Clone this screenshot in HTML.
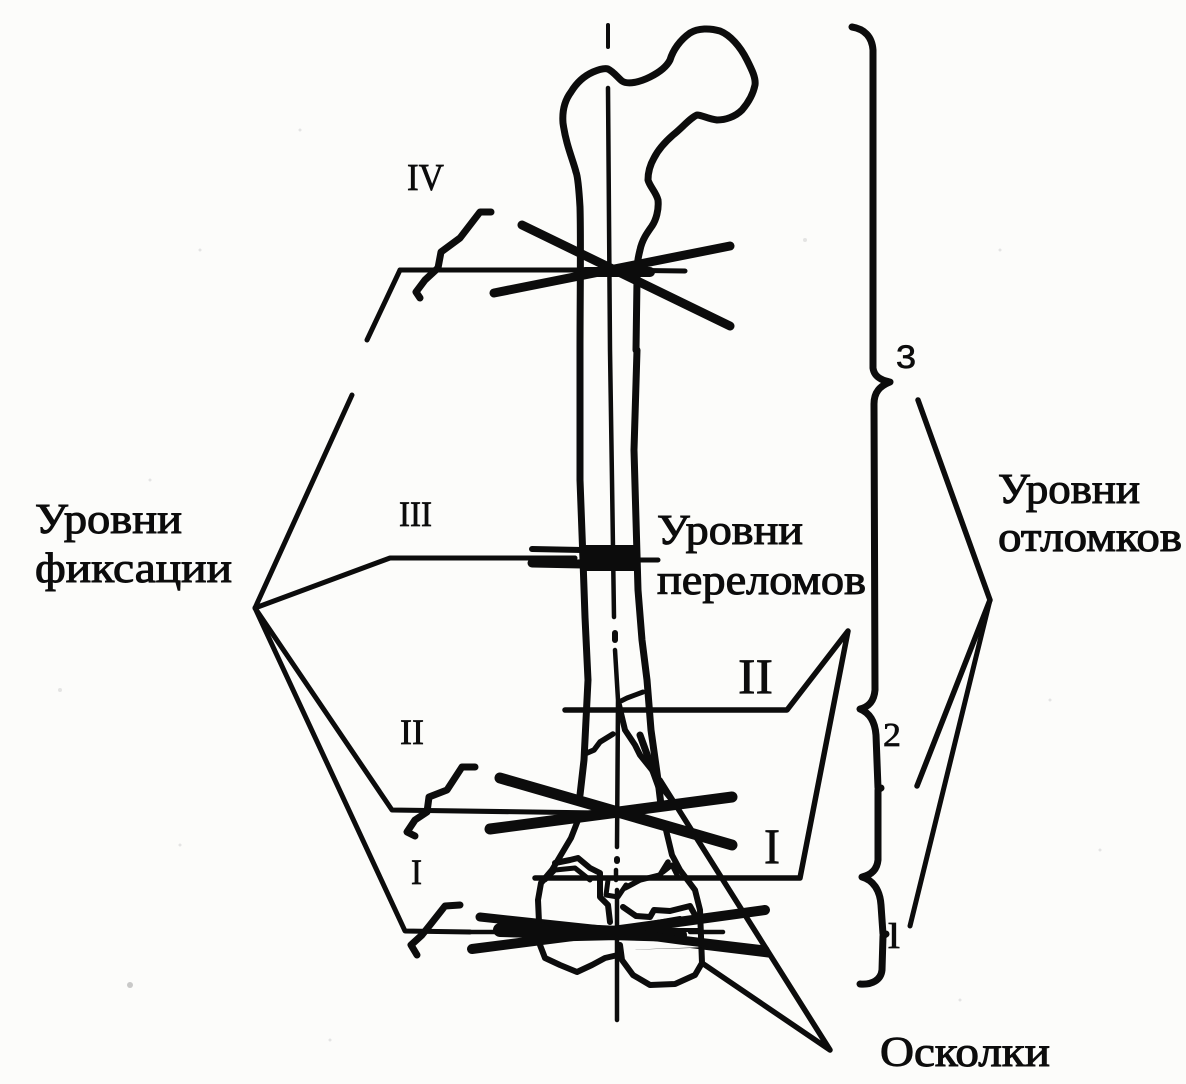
<!DOCTYPE html>
<html lang="ru"><head><meta charset="utf-8"><title>Уровни</title>
<style>html,body{margin:0;padding:0;background:#fcfcfa}svg{display:block}
text{font-family:"Liberation Serif","DejaVu Serif",serif;fill:#0c0c0c}</style></head>
<body>
<svg width="1186" height="1084" viewBox="0 0 1186 1084" xmlns="http://www.w3.org/2000/svg">
<rect width="1186" height="1084" fill="#fcfcfa"/>
<g fill="#ddd" opacity=".8">
<circle cx="130" cy="985" r="3" fill="#bbb"/><circle cx="805" cy="240" r="2"/><circle cx="60" cy="690" r="2"/><circle cx="200" cy="250" r="1.5"/><circle cx="1000" cy="250" r="1.5"/><circle cx="1050" cy="700" r="1.5"/><circle cx="300" cy="130" r="1.5"/><circle cx="1100" cy="850" r="1.5"/><circle cx="150" cy="480" r="1.5"/><circle cx="960" cy="1000" r="1.5"/><circle cx="330" cy="1040" r="1.5"/><circle cx="180" cy="845" r="1.5"/>
</g>
<g fill="none" stroke="#0c0c0c" stroke-linejoin="round" stroke-linecap="round">
<!-- axis -->
<path d="M608 25V47" stroke-width="4"/>
<path d="M608 88L610 350L612 480L614 617" stroke-width="4.5"/>
<path d="M615 633V640" stroke-width="6"/>
<path d="M615 650L618 700L617 847" stroke-width="4.5"/>
<path d="M617 859V861" stroke-width="6"/>
<path d="M616 870V880M617 890L617 1020" stroke-width="4.5"/>
<!-- femur outline -->
<path d="M580 350C580 300 581 240 580 207C579 190 578 177 576 172C573 160 566 145 563 123C562 110 565 100 571 92C577 82 584 76 593 72C600 69 605 68 608 69C614 72 618 78 622 81C628 85 640 82 650 77C660 72 667 66 670 60C673 50 680 40 690 33C698 28 710 28 720 31C730 35 740 46 747 60C752 70 756 78 755 85C753 95 748 103 742 110C735 117 725 120 717 120C708 119 702 115 697 115C690 118 682 128 673 135C665 142 658 150 654 158C650 165 648 172 648 180C650 187 656 192 658 200C659 210 656 220 652 226C647 233 642 240 640 250C638 258 637 262 637 280L636 350" stroke-width="7"/>
<path d="M580 350L580 480L583 560L585 617L588 680L584 760L580 795" stroke-width="7"/>
<path d="M637 350L634 450L636 520L638 590L642 640L647 680L651 730L658 780L661 805" stroke-width="7"/>
<path d="M580 815L571 838L552 870L541 883L538 900L540 945L545 958L560 965L577 972L592 965L605 958L618 955" stroke-width="6"/>
<path d="M666 830L672 855L680 870L695 890L700 910L702 963L695 975L675 984L650 985L633 975L622 960L620 945" stroke-width="6"/>
<!-- condyle cracks -->
<path d="M545 880L555 870L575 868L590 880" stroke-width="5"/>
<path d="M555 863L570 860L578 858L590 868L600 873L600 897L608 905L610 922" stroke-width="6"/>
<path d="M608 880L606 895L618 897L626 885" stroke-width="5"/>
<path d="M625 888L640 880L660 875L668 862" stroke-width="5.5"/>
<path d="M663 872L672 865L678 877" stroke-width="5"/>
<path d="M623 907L636 916L650 917L654 910L670 911L690 906L695 915" stroke-width="6"/>
<path d="M640 925L680 918M670 930L700 930" stroke-width="4"/>
<!-- upper fracture -->
<path d="M619 702L627 698L643 692" stroke-width="5"/>
<path d="M587 753L594 750L600 742L613 734" stroke-width="5.5"/>
<path d="M619 705L625 730L635 745L640 755L652 770L660 785L672 800" stroke-width="6"/>
<!-- level lines left -->
<path d="M400 270H608L685 271" stroke-width="5"/>
<path d="M400 270L367 340M352 395L255 608" stroke-width="5"/>
<path d="M255 608L390 558H575" stroke-width="5"/>
<path d="M255 608L392 810L600 813" stroke-width="5"/>
<path d="M255 608L405 931L470 932" stroke-width="5"/>
<path d="M470 932H560M690 932H723" stroke-width="4.5"/>
<path d="M262 620L392 810" stroke-width="3"/>
<!-- level lines right -->
<path d="M565 710H787L848 631L800 878H535" stroke-width="5.5"/>
<!-- fragment leaders -->
<path d="M660 780L830 1050L702 963" stroke-width="5.5"/>
<path d="M640 735L660 790" stroke-width="7"/>
<!-- IV pins -->
<path d="M522 225L730 326" stroke-width="9"/>
<path d="M494 293L730 246" stroke-width="9"/>
<path d="M585 272H650" stroke-width="10"/>
<path d="M491 212L480 212L460 238L441 252L438 268L425 280L416 292L420 298" stroke-width="7"/>
<!-- II pins -->
<path d="M500 778L732 845" stroke-width="11"/>
<path d="M490 829L732 797" stroke-width="11"/>
<path d="M475 767L462 767L447 790L429 797L427 812L415 820L407 832L415 836" stroke-width="7"/>
<!-- I pins -->
<path d="M472 949L620 930L765 910" stroke-width="10"/>
<path d="M480 917L620 932L680 940L765 950" stroke-width="9"/>
<path d="M500 930L680 935" stroke-width="14"/>
<path d="M460 905L445 906L430 925L422 935L411 945L417 955" stroke-width="7"/>
<!-- III pin -->
<path d="M532 549L582 550" stroke-width="6"/>
<path d="M532 563L582 564" stroke-width="9"/>
<path d="M640 560H658" stroke-width="5"/>
<!-- brace -->
<path d="M852 27C864 29 872 36 873 50L873 368C874 376 880 380 890 382C880 386 874 392 874 404L875 690C874 702 868 707 860 709C870 713 875 722 876 735L878 788L881 788L878 790L878 860C877 870 871 875 862 877C873 880 880 890 881 905L883 934L886 934L883 936L882 970C881 980 872 985 860 984" stroke-width="7"/>
<!-- fragment levels leaders -->
<path d="M918 400L990 600L917 786" stroke-width="5.5"/>
<path d="M990 600L910 926" stroke-width="5"/>
</g>
<rect x="580" y="545" width="60" height="26" fill="#0c0c0c"/>
<path d="M620 950L767 945L772 958L690 948Z" fill="#0c0c0c"/>
<path d="M534 922L620 926L700 940L620 940L534 942Z" fill="#0c0c0c"/>
<g stroke="#0c0c0c" stroke-width="1">
<text x="35" y="533" font-size="42" textLength="147" lengthAdjust="spacingAndGlyphs">Уровни</text>
<text x="35" y="582" font-size="42" textLength="197" lengthAdjust="spacingAndGlyphs">фиксации</text>
<text x="657" y="544" font-size="42" textLength="146" lengthAdjust="spacingAndGlyphs">Уровни</text>
<text x="657" y="594" font-size="42" textLength="209" lengthAdjust="spacingAndGlyphs">переломов</text>
<text x="998" y="503" font-size="42" textLength="142" lengthAdjust="spacingAndGlyphs">Уровни</text>
<text x="998" y="551" font-size="42" textLength="184" lengthAdjust="spacingAndGlyphs">отломков</text>
<text x="880" y="1066" font-size="42" textLength="170" lengthAdjust="spacingAndGlyphs">Осколки</text>
</g>
<g stroke="#0c0c0c" stroke-width=".7">
<text x="407" y="190" font-size="38" textLength="37" lengthAdjust="spacingAndGlyphs">IV</text>
<text x="399" y="526" font-size="36" textLength="33" lengthAdjust="spacingAndGlyphs">III</text>
<text x="400" y="744" font-size="36" textLength="24" lengthAdjust="spacingAndGlyphs">II</text>
<text x="411" y="884" font-size="36" textLength="11" lengthAdjust="spacingAndGlyphs">I</text>
<text x="738" y="693" font-size="50" textLength="35" lengthAdjust="spacingAndGlyphs">II</text>
<text x="764" y="863" font-size="50" textLength="16" lengthAdjust="spacingAndGlyphs">I</text>
<text x="896" y="368" font-size="32" style="font-family:'Liberation Sans',sans-serif" textLength="20" lengthAdjust="spacingAndGlyphs">3</text>
<text x="883" y="746" font-size="34" textLength="18" lengthAdjust="spacingAndGlyphs">2</text>
<text x="888" y="948" font-size="36" textLength="12" lengthAdjust="spacingAndGlyphs">l</text>
</g>
</svg>
</body></html>
